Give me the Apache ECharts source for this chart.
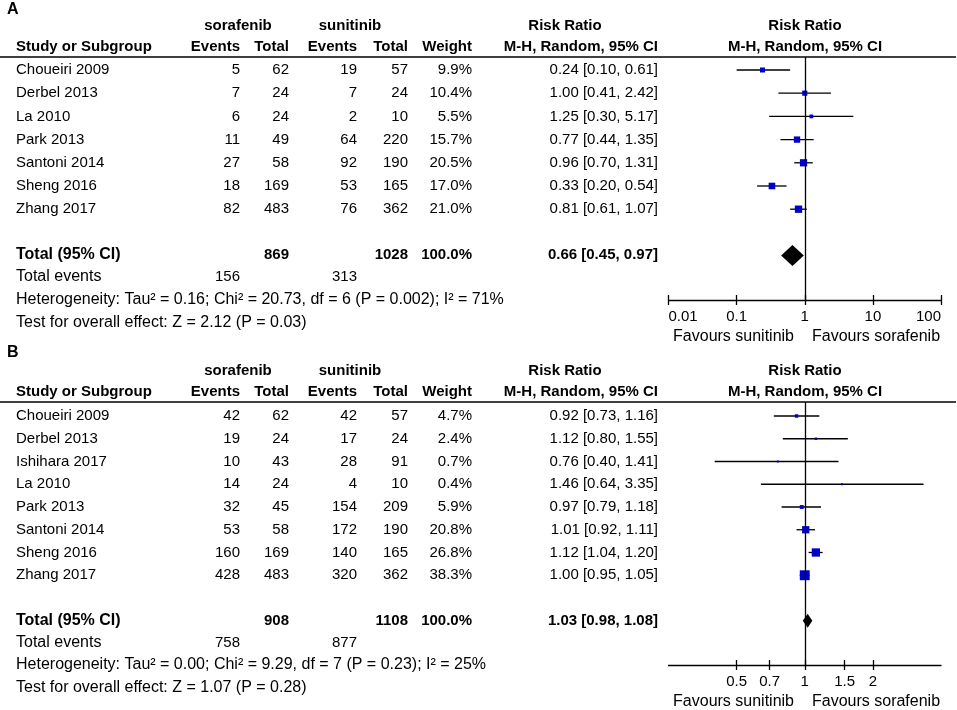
<!DOCTYPE html>
<html lang="en">
<head>
<meta charset="UTF-8">
<title>Forest plot: sorafenib vs sunitinib</title>
<script src="https://cdn.jsdelivr.net/npm/echarts@6/dist/echarts.min.js"></script>
<style>html,body{margin:0;padding:0;background:#fff;}</style>
</head>
<body>
<div id="chart" style="width:957px;height:710px;"></div>
<script>
// ---- panel A ----
var studiesA = ['Choueiri 2009', 'Derbel 2013', 'La 2010', 'Park 2013', 'Santoni 2014', 'Sheng 2016', 'Zhang 2017'];
var sorEventsA = [5, 7, 6, 11, 27, 18, 82];
var sorTotalA = [62, 24, 24, 49, 58, 169, 483];
var sunEventsA = [19, 7, 2, 64, 92, 53, 76];
var sunTotalA = [57, 24, 10, 220, 190, 165, 362];
var weightA = [9.9, 10.4, 5.5, 15.7, 20.5, 17.0, 21.0];
var rrA = [0.24, 1.00, 1.25, 0.77, 0.96, 0.33, 0.81];
var loA = [0.10, 0.41, 0.30, 0.44, 0.70, 0.20, 0.61];
var hiA = [0.61, 2.42, 5.17, 1.35, 1.31, 0.54, 1.07];
var totalA = [869, 1028, 100.0, 0.66, 0.45, 0.97];   // sor total, sun total, weight, rr, lo, hi
var totalEventsA = [156, 313];
var hetA = 'Heterogeneity: Tau\u00b2 = 0.16; Chi\u00b2 = 20.73, df = 6 (P = 0.002); I\u00b2 = 71%';
var testA = 'Test for overall effect: Z = 2.12 (P = 0.03)';
var ticksA = [0.01, 0.1, 1, 10, 100];

// ---- panel B ----
var studiesB = ['Choueiri 2009', 'Derbel 2013', 'Ishihara 2017', 'La 2010', 'Park 2013', 'Santoni 2014', 'Sheng 2016', 'Zhang 2017'];
var sorEventsB = [42, 19, 10, 14, 32, 53, 160, 428];
var sorTotalB = [62, 24, 43, 24, 45, 58, 169, 483];
var sunEventsB = [42, 17, 28, 4, 154, 172, 140, 320];
var sunTotalB = [57, 24, 91, 10, 209, 190, 165, 362];
var weightB = [4.7, 2.4, 0.7, 0.4, 5.9, 20.8, 26.8, 38.3];
var rrB = [0.92, 1.12, 0.76, 1.46, 0.97, 1.01, 1.12, 1.00];
var loB = [0.73, 0.80, 0.40, 0.64, 0.79, 0.92, 1.04, 0.95];
var hiB = [1.16, 1.55, 1.41, 3.35, 1.18, 1.11, 1.20, 1.05];
var totalB = [908, 1108, 100.0, 1.03, 0.98, 1.08];
var totalEventsB = [758, 877];
var hetB = 'Heterogeneity: Tau\u00b2 = 0.00; Chi\u00b2 = 9.29, df = 7 (P = 0.23); I\u00b2 = 25%';
var testB = 'Test for overall effect: Z = 1.07 (P = 0.28)';
var ticksB = [0.5, 0.7, 1, 1.5, 2];

var FONT = '"Liberation Sans", Arial, sans-serif';
var FS = 15;
var BLUE = '#0000c8';

// column anchors (x)
var X_NAME = 16, X_SORE = 240, X_SORT = 289, X_SUNE = 357, X_SUNT = 408, X_W = 472, X_CI = 658;

var graphics = [];
function txt(x, y, s, align, bold, size) {
    graphics.push({
        type: 'text', x: x, y: y, silent: true,
        style: {
            text: String(s), align: align || 'left', verticalAlign: 'middle',
            fontSize: size || FS, fontWeight: bold ? 'bold' : 'normal', fontFamily: FONT, fill: '#000'
        }
    });
}
function ci(r, l, h) {
    return r.toFixed(2) + ' [' + l.toFixed(2) + ', ' + h.toFixed(2) + ']';
}

// table part of one panel
function table(p) {
    txt(7, p.yLetter, p.letter, 'left', true, 16);
    txt(238, p.yH1, 'sorafenib', 'center', true);
    txt(350, p.yH1, 'sunitinib', 'center', true);
    txt(565, p.yH1, 'Risk Ratio', 'center', true);
    txt(805, p.yH1, 'Risk Ratio', 'center', true);
    txt(X_NAME, p.yH2, 'Study or Subgroup', 'left', true);
    txt(X_SORE, p.yH2, 'Events', 'right', true);
    txt(X_SORT, p.yH2, 'Total', 'right', true);
    txt(X_SUNE, p.yH2, 'Events', 'right', true);
    txt(X_SUNT, p.yH2, 'Total', 'right', true);
    txt(X_W, p.yH2, 'Weight', 'right', true);
    txt(X_CI, p.yH2, 'M-H, Random, 95% CI', 'right', true);
    txt(805, p.yH2, 'M-H, Random, 95% CI', 'center', true);
    graphics.push({type: 'line', silent: true, shape: {x1: 0, y1: p.yLine, x2: 956, y2: p.yLine},
        style: {stroke: '#000', lineWidth: 1.5}});
    for (var i = 0; i < p.studies.length; i++) {
        var y = p.y0 + p.step * i;
        txt(X_NAME, y, p.studies[i]);
        txt(X_SORE, y, p.sorE[i], 'right');
        txt(X_SORT, y, p.sorT[i], 'right');
        txt(X_SUNE, y, p.sunE[i], 'right');
        txt(X_SUNT, y, p.sunT[i], 'right');
        txt(X_W, y, p.w[i].toFixed(1) + '%', 'right');
        txt(X_CI, y, ci(p.rr[i], p.lo[i], p.hi[i]), 'right');
    }
    var t = p.total;
    txt(X_NAME, p.yTotal, 'Total (95% CI)', 'left', true, 16);
    txt(X_SORT, p.yTotal, t[0], 'right', true);
    txt(X_SUNT, p.yTotal, t[1], 'right', true);
    txt(X_W, p.yTotal, t[2].toFixed(1) + '%', 'right', true);
    txt(X_CI, p.yTotal, ci(t[3], t[4], t[5]), 'right', true);
    txt(X_NAME, p.yEv, 'Total events', 'left', false, 16);
    txt(X_SORE, p.yEv, p.events[0], 'right');
    txt(X_SUNE, p.yEv, p.events[1], 'right');
    txt(X_NAME, p.yHet, p.het, 'left', false, 16);
    txt(X_NAME, p.yTest, p.test, 'left', false, 16);
    txt(794, p.yFav, 'Favours sunitinib', 'right', false, 16);
    txt(812, p.yFav, 'Favours sorafenib', 'left', false, 16);
}

var panelA = {letter: 'A', yLetter: 10, yH1: 26, yH2: 47, yLine: 57, y0: 70, step: 23.2,
    yTotal: 255, yEv: 277, yHet: 300, yTest: 323, yFav: 337,
    studies: studiesA, sorE: sorEventsA, sorT: sorTotalA, sunE: sunEventsA, sunT: sunTotalA,
    w: weightA, rr: rrA, lo: loA, hi: hiA, total: totalA, events: totalEventsA, het: hetA, test: testA};
var panelB = {letter: 'B', yLetter: 353, yH1: 371, yH2: 392, yLine: 402, y0: 416, step: 22.75,
    yTotal: 621, yEv: 643, yHet: 665, yTest: 688, yFav: 702,
    studies: studiesB, sorE: sorEventsB, sorT: sorTotalB, sunE: sunEventsB, sunT: sunTotalB,
    w: weightB, rr: rrB, lo: loB, hi: hiB, total: totalB, events: totalEventsB, het: hetB, test: testB};
table(panelA);
table(panelB);

// plot rows: [rr, row, lo, hi, weight]
function rows(rr, lo, hi, w) {
    return rr.map(function (v, i) { return [v, i, lo[i], hi[i], w[i]]; });
}

function studyItem(params, api) {
    var y = api.value(1);
    var p = api.coord([api.value(0), y]);
    var l = api.coord([api.value(2), y]);
    var h = api.coord([api.value(3), y]);
    var s = Math.max(2, 1.6 * Math.sqrt(api.value(4)));
    return {type: 'group', children: [
        {type: 'line', shape: {x1: l[0], y1: l[1], x2: h[0], y2: h[1]}, style: {stroke: '#000', lineWidth: 1.3}},
        {type: 'rect', shape: {x: p[0] - s / 2, y: p[1] - s / 2, width: s, height: s}, style: {fill: BLUE}}
    ]};
}
function diamond(half) {
    return function (params, api) {
        var y = api.value(1);
        var p = api.coord([api.value(0), y]);
        var l = api.coord([api.value(2), y]);
        var h = api.coord([api.value(3), y]);
        return {type: 'polygon', shape: {points: [[l[0], l[1]], [p[0], p[1] - half], [h[0], h[1]], [p[0], p[1] + half]]},
            style: {fill: '#000'}};
    };
}

// two x axes per grid so the ticks cross the axis line
function xAxisPair(grid, min, max, ticks, edgeAlign) {
    var line = {color: '#000', width: 1.3};
    var label = {color: '#000', fontSize: FS, fontFamily: FONT, margin: 9, customValues: ticks,
        formatter: function (v) { return String(+(+v).toFixed(2)); }};
    if (edgeAlign) {
        label.alignMinLabel = 'left';
        label.alignMaxLabel = 'right';
    }
    return [{
        gridIndex: grid, type: 'log', logBase: 10, min: min, max: max, position: 'bottom',
        axisLine: {show: true, onZero: false, lineStyle: line},
        axisTick: {show: true, length: 5, lineStyle: line, customValues: ticks},
        axisLabel: label,
        splitLine: {show: false}, minorTick: {show: false}
    }, {
        gridIndex: grid, type: 'log', logBase: 10, min: min, max: max, position: 'bottom',
        axisLine: {show: false, onZero: false},
        axisTick: {show: true, inside: true, length: 5, lineStyle: line, customValues: ticks},
        axisLabel: {show: false},
        splitLine: {show: false}
    }];
}

var refLine = {silent: true, symbol: ['none', 'none'], label: {show: false},
    lineStyle: {color: '#000', type: 'solid', width: 1.3}, data: [{xAxis: 1}]};

var option = {
    animation: false,
    backgroundColor: '#fff',
    graphic: graphics,
    grid: [
        {left: 668.5, width: 272.5, top: 57, height: 243},
        {left: 668.5, width: 272.5, top: 402, height: 263}
    ],
    xAxis: xAxisPair(0, 0.01, 100, ticksA, true).concat(xAxisPair(1, 0.25, 4, ticksB, false)),
    yAxis: [
        {gridIndex: 0, type: 'value', inverse: true, min: -0.56, max: 9.914, show: false},
        {gridIndex: 1, type: 'value', inverse: true, min: -0.615, max: 10.945, show: false}
    ],
    series: [
        {type: 'custom', xAxisIndex: 0, yAxisIndex: 0, renderItem: studyItem,
            data: rows(rrA, loA, hiA, weightA), markLine: refLine, clip: false},
        {type: 'custom', xAxisIndex: 0, yAxisIndex: 0, renderItem: diamond(10.5),
            data: [[totalA[3], 8, totalA[4], totalA[5]]]},
        {type: 'custom', xAxisIndex: 2, yAxisIndex: 1, renderItem: studyItem,
            data: rows(rrB, loB, hiB, weightB), markLine: refLine, clip: false},
        {type: 'custom', xAxisIndex: 2, yAxisIndex: 1, renderItem: diamond(7),
            data: [[totalB[3], 9, totalB[4], totalB[5]]]}
    ]
};

var chart = echarts.init(document.getElementById('chart'));
chart.setOption(option);
</script>
</body>
</html>
